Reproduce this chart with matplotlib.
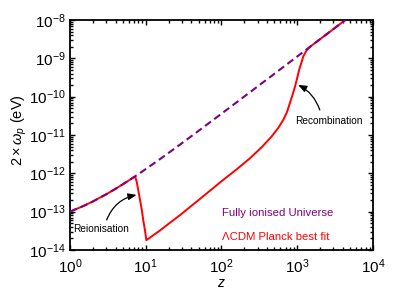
import numpy as np
import matplotlib
matplotlib.use('Agg')
import matplotlib.pyplot as plt
from matplotlib.ticker import LogLocator, NullFormatter

plt.rcParams['font.family'] = ['Liberation Sans', 'DejaVu Sans']
plt.rcParams['mathtext.fontset'] = 'custom'
plt.rcParams['mathtext.rm'] = 'Liberation Sans'
plt.rcParams['mathtext.it'] = 'Liberation Sans:italic'

# fully ionised universe (dashed)
ionisedZ = [1, 1.5, 2, 3, 4, 5, 6, 7.2, 10, 15, 20, 30, 50, 100, 200, 300, 500,
            1000, 2000, 5000, 10000]
ionisedW = [1.00e-13, 1.40e-13, 1.84e-13, 2.83e-13, 3.95e-13, 5.20e-13, 6.55e-13,
            8.30e-13, 1.29e-12, 2.26e-12, 3.40e-12, 6.10e-12, 1.29e-11, 3.59e-11,
            1.01e-10, 1.85e-10, 3.96e-10, 1.12e-9, 3.16e-9, 1.25e-8, 3.54e-8]

# LCDM Planck best fit (solid red)
planckZ = [1, 1.5, 2, 3, 4, 5, 6, 7.0, 7.3, 7.6, 8.0, 8.4, 8.9, 9.27, 9.76, 10.2,
           15, 20, 28.3, 52, 100, 160, 237, 340, 458, 560, 652, 730, 800, 870, 933,
           1000, 1060, 1130, 1200, 1300, 1395, 1497, 2000, 5000, 10000]
planckW = [1.00e-13, 1.40e-13, 1.84e-13, 2.83e-13, 3.95e-13, 5.20e-13, 6.55e-13,
           8.0e-13, 7.9e-13, 6.0e-13, 3.5e-13, 2.05e-13, 1.07e-13, 6.0e-14, 3.3e-14,
           1.8e-14, 3.1e-14, 4.8e-14, 8.1e-14, 2.15e-13, 6.2e-13, 1.29e-12, 2.46e-12,
           4.8e-12, 9.1e-12, 1.52e-11, 2.45e-11, 3.9e-11, 6.8e-11, 1.14e-10, 1.82e-10,
           3.1e-10, 5.0e-10, 7.5e-10, 1.12e-9, 1.5e-9, 1.8e-9, 2.05e-9, 3.16e-9,
           1.25e-8, 3.54e-8]

purple = '#800080'
red = '#ff0000'

fig = plt.figure(figsize=(3.99, 2.99), dpi=100)
ax = fig.add_axes([0.1754, 0.164, 0.7594, 0.769])

ax.plot(planckZ, planckW, color=red, lw=1.4, zorder=2)
ax.plot(ionisedZ, ionisedW, color=purple, lw=1.5, dashes=(3.5, 2), zorder=3)

ax.set_xscale('log')
ax.set_yscale('log')
ax.set_xlim(1, 1e4)
ax.set_ylim(1e-14, 1e-8)

ax.xaxis.set_major_locator(LogLocator(base=10, numticks=10))
ax.yaxis.set_major_locator(LogLocator(base=10, numticks=10))
ax.xaxis.set_minor_locator(LogLocator(base=10, subs=np.arange(2, 10), numticks=50))
ax.yaxis.set_minor_locator(LogLocator(base=10, subs=np.arange(2, 10), numticks=50))
ax.xaxis.set_minor_formatter(NullFormatter())
ax.yaxis.set_minor_formatter(NullFormatter())

ax.tick_params(which='both', direction='in', top=True, right=True, width=1.0)
ax.tick_params(which='major', length=3.5, labelsize=11, pad=3)
ax.tick_params(axis='x', which='major', pad=5)
ax.tick_params(which='minor', length=2)
for s in ax.spines.values():
    s.set_linewidth(1.3)

ax.set_xlabel(r'$z$', fontsize=10, labelpad=0)
ax.set_ylabel(r'$2\times\omega_p$ (eV)', fontsize=10.5)
ax.yaxis.set_label_coords(-0.135, 0.52)

# annotations
ax.text(2.56, 3.53e-14, 'Reionisation', fontsize=7.3, ha='center', va='center')
ax.annotate('', xy=(7.57, 2.73e-13), xytext=(3.05, 6.07e-14),
            arrowprops=dict(arrowstyle='-|>,head_length=0.5,head_width=0.2',
                            color='black', lw=0.9,
                            connectionstyle='arc3,rad=-0.27',
                            shrinkA=0, shrinkB=0))
ax.text(2612, 2.33e-11, 'Recombination', fontsize=7.3, ha='center', va='center')
ax.annotate('', xy=(1028, 2.03e-10), xytext=(1986, 4.5e-11),
            arrowprops=dict(arrowstyle='-|>,head_length=0.5,head_width=0.2',
                            color='black', lw=0.9,
                            connectionstyle='arc3,rad=0.2',
                            shrinkA=0, shrinkB=0))

ax.text(0.502, 0.161, 'Fully ionised Universe', color=purple, fontsize=8.2,
        transform=ax.transAxes, ha='left', va='center')
ax.text(0.502, 0.0565, '\u039bCDM Planck best fit', color=red, fontsize=8.2,
        transform=ax.transAxes, ha='left', va='center')

fig.savefig('out.png', dpi=100)
